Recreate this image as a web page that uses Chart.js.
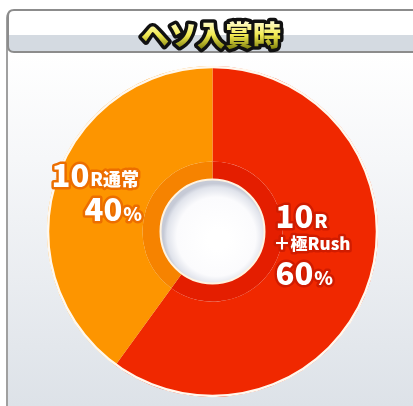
<!DOCTYPE html>
<html>
<head>
<meta charset="utf-8">
<script src="https://cdn.jsdelivr.net/npm/chart.js@4"></script>
<style>
    html, body { margin: 0; padding: 0; background: #fff; }
    #wrap { position: relative; width: 413px; height: 406px; overflow: hidden; }
    canvas { position: absolute; left: 0; top: 0; }
</style>
</head>
<body>
<div id="wrap">
    <canvas id="myChart" width="413" height="406"></canvas>
</div>
<script>
// chart data
const title = 'ヘソ入賞時';
const categories = ['10R+極Rush', '10R通常'];
const shares = [60, 40];

// labels drawn on the slices: [big number, small suffix], [second line], [percent]
const labelMain = ['10', '10'];
const labelSuffix = ['R', 'R通常'];
const labelSub = ['＋極Rush', ''];

const outerColors = ['#f02800', '#fd9500'];
const ringColors = ['#e41e00', '#f68300'];
const strokeColors = ['#d01c00', '#ec6e00'];

const FONT = '"Noto Sans CJK JP", "Noto Sans", sans-serif';

function roundRect(ctx, x, y, w, h, r) {
    ctx.beginPath();
    ctx.moveTo(x + r, y);
    ctx.lineTo(x + w - r, y);
    ctx.quadraticCurveTo(x + w, y, x + w, y + r);
    ctx.lineTo(x + w, y + h - r);
    ctx.quadraticCurveTo(x + w, y + h, x + w - r, y + h);
    ctx.lineTo(x + r, y + h);
    ctx.quadraticCurveTo(x, y + h, x, y + h - r);
    ctx.lineTo(x, y + r);
    ctx.quadraticCurveTo(x, y, x + r, y);
    ctx.closePath();
}

// panel, title box and title text
const panelPlugin = {
    id: 'panel',
    beforeDraw(chart) {
        const ctx = chart.ctx;
        ctx.save();
        ctx.fillStyle = '#ffffff';
        ctx.fillRect(0, 0, chart.width, chart.height);

        // body panel
        const g = ctx.createLinearGradient(0, 52, 0, 406);
        g.addColorStop(0, '#ffffff');
        g.addColorStop(0.3, '#f6f7f9');
        g.addColorStop(1, '#dde2e8');
        roundRect(ctx, 7, 12, 430, 420, 6);
        ctx.fillStyle = g;
        ctx.fill();
        ctx.lineWidth = 2;
        ctx.strokeStyle = '#a0a0a0';
        ctx.stroke();

        // title box
        roundRect(ctx, 8, 10, 430, 42, 6);
        ctx.fillStyle = '#ffffff';
        ctx.fill();
        ctx.save();
        ctx.clip();
        ctx.fillStyle = '#d4dae1';
        ctx.fillRect(8, 35, 430, 17);
        ctx.restore();
        roundRect(ctx, 8, 10, 430, 42, 6);
        ctx.lineWidth = 2;
        ctx.strokeStyle = '#8c8c8c';
        ctx.stroke();

        // title text
        ctx.font = '900 28px ' + FONT;
        ctx.textAlign = 'center';
        ctx.textBaseline = 'alphabetic';
        ctx.lineJoin = 'round';
        ctx.lineWidth = 7;
        ctx.strokeStyle = '#111';
        ctx.strokeText(title, 211, 46);
        const tg = ctx.createLinearGradient(0, 22, 0, 48);
        tg.addColorStop(0, '#fffcc8');
        tg.addColorStop(0.5, '#f2ea50');
        tg.addColorStop(1, '#8a8a10');
        ctx.fillStyle = tg;
        ctx.fillText(title, 211, 46);
        ctx.restore();
    }
};

function outlinedText(ctx, text, x, y, size, stroke) {
    ctx.font = '900 ' + size + 'px ' + FONT;
    ctx.lineJoin = 'round';
    ctx.lineWidth = 5;
    ctx.strokeStyle = stroke;
    ctx.strokeText(text, x, y);
    ctx.fillStyle = '#ffffff';
    ctx.fillText(text, x, y);
    return ctx.measureText(text).width;
}

// hole shading, outer rim and slice labels
const decorPlugin = {
    id: 'decor',
    afterDatasetsDraw(chart) {
        const ctx = chart.ctx;
        const outer = chart.getDatasetMeta(0).data;
        const inner = chart.getDatasetMeta(1).data;
        const cx = outer[0].x, cy = outer[0].y;
        const R = outer[0].outerRadius;
        const r = inner[0].innerRadius;
        ctx.save();

        // white rim around the pie
        ctx.beginPath();
        ctx.arc(cx, cy, R - 1, 0, Math.PI * 2);
        ctx.lineWidth = 2.5;
        ctx.strokeStyle = '#fff8ee';
        ctx.stroke();

        // hole
        const hg = ctx.createRadialGradient(cx + 6, cy + 8, r * 0.2, cx + 3, cy + 4, r);
        hg.addColorStop(0, '#ffffff');
        hg.addColorStop(0.7, '#fbfbfd');
        hg.addColorStop(0.92, '#e0e3eb');
        hg.addColorStop(1, '#c6cad6');
        ctx.beginPath();
        ctx.arc(cx, cy, r, 0, Math.PI * 2);
        ctx.fillStyle = hg;
        ctx.fill();
        ctx.lineWidth = 2;
        ctx.strokeStyle = '#fff3e0';
        ctx.stroke();

        ctx.textBaseline = 'alphabetic';
        ctx.textAlign = 'left';

        // right slice (60%)
        let x = cx + 63, w;
        w = outlinedText(ctx, labelMain[0], x, cy - 4, 31, strokeColors[0]);
        outlinedText(ctx, labelSuffix[0], x + w + 1, cy - 4, 19, strokeColors[0]);
        outlinedText(ctx, labelSub[0], x - 2, cy + 18, 17, strokeColors[0]);
        w = outlinedText(ctx, shares[0] + '', x, cy + 53, 31, strokeColors[0]);
        outlinedText(ctx, '%', x + w + 1, cy + 53, 19, strokeColors[0]);

        // left slice (40%)
        x = cx - 161;
        w = outlinedText(ctx, labelMain[1], x, cy - 45, 31, strokeColors[1]);
        outlinedText(ctx, labelSuffix[1], x + w + 1, cy - 46, 18, strokeColors[1]);
        x = cx - 128;
        w = outlinedText(ctx, shares[1] + '', x, cy - 11, 31, strokeColors[1]);
        outlinedText(ctx, '%', x + w + 1, cy - 11, 19, strokeColors[1]);

        ctx.restore();
    }
};

const ctx = document.getElementById('myChart').getContext('2d');
const myChart = new Chart(ctx, {
    type: 'doughnut',
    data: {
        labels: categories,
        datasets: [{
            data: shares,
            backgroundColor: outerColors,
            borderWidth: 0,
            weight: 95
        }, {
            data: shares,
            backgroundColor: ringColors,
            borderWidth: 0,
            weight: 18
        }]
    },
    options: {
        responsive: false,
        animation: false,
        events: [],
        cutout: 52,
        layout: {
            padding: { top: 66, bottom: 9, left: 47, right: 35 }
        },
        plugins: {
            legend: { display: false },
            tooltip: { enabled: false }
        }
    },
    plugins: [panelPlugin, decorPlugin]
});
</script>
</body>
</html>
